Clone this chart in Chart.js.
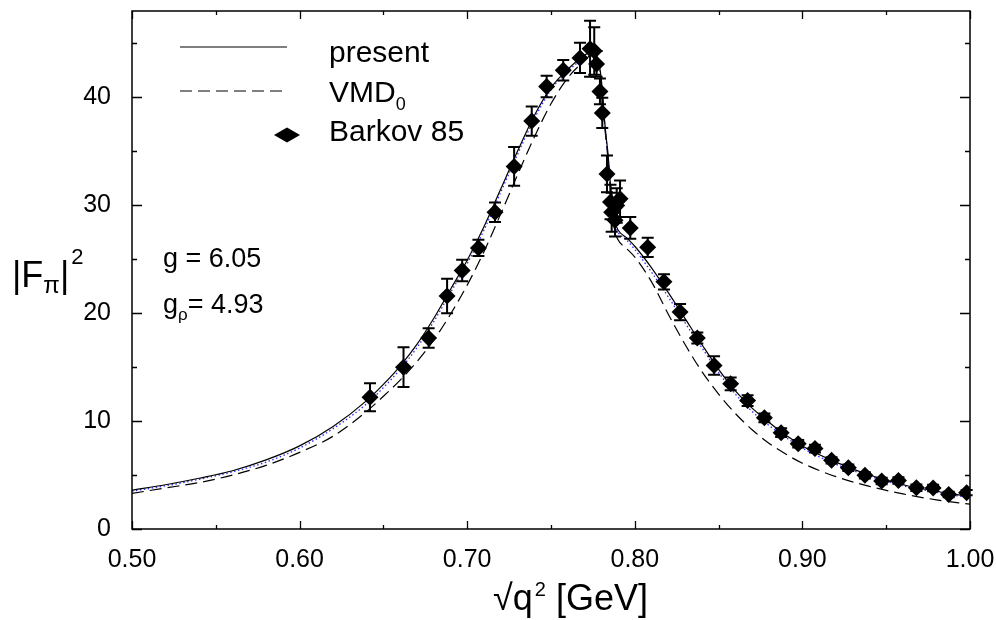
<!DOCTYPE html>
<html>
<head>
<meta charset="utf-8">
<script src="https://cdn.jsdelivr.net/npm/chart.js@4.4.1/dist/chart.umd.min.js"></script>
<style>
  html, body { margin: 0; padding: 0; background: #fff; }
</style>
</head>
<body>
<canvas id="ffChart" width="996" height="620"></canvas>
<script>
// sqrt(q^2) grid for the model curves [GeV]
const curveX = [0.50, 0.52, 0.54, 0.56, 0.58, 0.60, 0.62, 0.64, 0.65, 0.66,
    0.67, 0.68, 0.69, 0.70, 0.71, 0.72, 0.73, 0.74, 0.75, 0.76,
    0.77, 0.775, 0.777, 0.779, 0.780, 0.781, 0.782, 0.783, 0.784, 0.785,
    0.786, 0.787, 0.788, 0.790, 0.795, 0.80, 0.81, 0.82, 0.83, 0.84,
    0.85, 0.86, 0.87, 0.88, 0.89, 0.90, 0.92, 0.94, 0.96, 0.98, 1.00];

// "present" (solid)
const presentY = [3.6, 4.1, 4.7, 5.4, 6.4, 7.7, 9.5, 11.9, 13.4, 15.1,
    17.1, 19.5, 22.2, 24.9, 28.0, 31.5, 35.0, 38.3, 40.9, 42.6,
    43.9, 44.3, 43.8, 42.8, 41.7, 39.8, 37.8, 36.2, 34.8, 32.8,
    30.8, 29.3, 28.5, 27.7, 27.0, 26.2, 24.2, 21.9, 19.5, 17.1,
    14.8, 12.8, 11.2, 9.9, 8.7, 7.7, 6.2, 5.0, 4.1, 3.5, 3.0];

// VMD_0 (dashed)
const vmdY = [3.3, 3.8, 4.3, 5.0, 5.9, 7.1, 8.6, 10.9, 12.3, 13.8,
    15.5, 17.5, 19.9, 22.6, 25.7, 29.2, 32.8, 36.3, 39.4, 41.8,
    43.4, 44.0, 43.6, 42.5, 41.3, 39.4, 37.4, 35.8, 34.3, 32.3,
    30.3, 28.8, 27.7, 26.8, 26.0, 25.2, 22.9, 19.9, 17.1, 14.6,
    12.5, 10.7, 9.2, 7.95, 6.95, 6.1, 4.85, 3.95, 3.25, 2.7, 2.3];

// blue dotted curve (not in legend)
const dottedY = [3.5, 4.0, 4.6, 5.3, 6.2, 7.5, 9.3, 11.6, 13.1, 14.8,
    16.8, 19.2, 21.9, 24.6, 27.7, 31.2, 34.7, 38.0, 40.7, 42.4,
    43.7, 44.1, 43.6, 42.6, 41.5, 39.6, 37.6, 36.0, 34.6, 32.6,
    30.6, 29.1, 28.3, 27.5, 26.8, 25.9, 23.8, 21.5, 19.1, 16.8,
    14.5, 12.5, 10.9, 9.6, 8.5, 7.5, 6.0, 4.9, 4.0, 3.4, 2.9];

// Barkov 85 data
const barkovX = [0.642, 0.662, 0.677, 0.688, 0.697, 0.7067, 0.7166, 0.728, 0.7385, 0.7474,
    0.7573, 0.7673, 0.7733, 0.7758, 0.7772, 0.7792, 0.7806, 0.7834, 0.7855, 0.7862,
    0.7882, 0.7892, 0.7912, 0.7973, 0.8077, 0.8174, 0.827, 0.8373, 0.8473, 0.8572,
    0.8673, 0.8773, 0.8873, 0.8975, 0.9075, 0.9174, 0.9274, 0.9373, 0.9473, 0.9573,
    0.968, 0.978, 0.9873, 0.998];
const barkovY = [12.2, 15.0, 17.7, 21.6, 23.95, 26.05, 29.35, 33.6, 37.8, 41.0,
    42.5, 43.65, 44.5, 44.3, 43.1, 40.55, 38.55, 32.9, 30.3, 29.35,
    28.6, 29.97, 30.6, 27.9, 26.1, 22.9, 20.1, 17.7, 15.15, 13.45,
    11.9, 10.3, 8.93, 7.9, 7.45, 6.36, 5.68, 4.97, 4.45, 4.5,
    3.83, 3.8, 3.2, 3.37];
const barkovErr = [1.3, 1.85, 0.9, 1.6, 1.0, 0.75, 0.9, 1.8, 1.35, 1.0,
    0.95, 1.4, 2.6, 2.2, 1.2, 1.2, 1.4, 1.7, 1.6, 1.8,
    1.5, 1.6, 1.7, 1.0, 0.9, 0.7, 0.75, 0.5, 0.85, 0.6,
    0.5, 0.4, 0.4, 0.35, 0.35, 0.3, 0.3, 0.3, 0.3, 0.3,
    0.3, 0.3, 0.25, 0.25];

const X_MIN = 0.5, X_MAX = 1.0, Y_MIN = 0, Y_MAX = 48;
const FONT = "'Liberation Sans', Arial, sans-serif";

const toXY = (xs, ys) => xs.map((x, i) => ({ x: x, y: ys[i] }));

function isMult(v, step) {
    const k = v / step;
    return Math.abs(k - Math.round(k)) < 1e-6;
}

// keep the plot box fixed: no extra room for overhanging tick labels
function noOverhang(scale) {
    scale.paddingTop = 0;
    scale.paddingBottom = 0;
    scale.paddingLeft = 0;
    scale.paddingRight = 0;
}

// error bars for the Barkov points
const errorBarPlugin = {
    id: 'errorBars',
    afterDatasetsDraw(chart) {
        const { ctx, scales: { x, y } } = chart;
        ctx.save();
        ctx.strokeStyle = '#000';
        ctx.lineWidth = 2;
        barkovX.forEach((bx, i) => {
            const px = x.getPixelForValue(bx);
            const top = y.getPixelForValue(barkovY[i] + barkovErr[i]);
            const bot = y.getPixelForValue(barkovY[i] - barkovErr[i]);
            ctx.beginPath();
            ctx.moveTo(px, top); ctx.lineTo(px, bot);
            ctx.moveTo(px - 6, top); ctx.lineTo(px + 6, top);
            ctx.moveTo(px - 6, bot); ctx.lineTo(px + 6, bot);
            ctx.stroke();
        });
        ctx.restore();
    }
};

function text(ctx, str, x, y, size) {
    ctx.font = size + 'px ' + FONT;
    ctx.fillText(str, x, y);
    return x + ctx.measureText(str).width;
}

// frame, inward ticks, legend, labels
const framePlugin = {
    id: 'frame',
    afterDraw(chart) {
        const { ctx, chartArea: a, scales: { x, y } } = chart;
        ctx.save();
        ctx.strokeStyle = '#000';
        ctx.lineWidth = 1.5;
        ctx.strokeRect(a.left, a.top, a.right - a.left, a.bottom - a.top);

        ctx.lineWidth = 1.3;
        ctx.beginPath();
        x.ticks.forEach(t => {
            if (!isMult(t.value, 0.05)) return;
            const len = isMult(t.value, 0.1) ? 8 : 4;
            const px = Math.round(x.getPixelForValue(t.value)) + 0.5;
            ctx.moveTo(px, a.bottom); ctx.lineTo(px, a.bottom - len);
            ctx.moveTo(px, a.top); ctx.lineTo(px, a.top + len);
        });
        y.ticks.forEach(t => {
            if (!isMult(t.value, 5)) return;
            const len = isMult(t.value, 10) ? 10 : 5;
            const py = Math.round(y.getPixelForValue(t.value)) + 0.5;
            ctx.moveTo(a.left, py); ctx.lineTo(a.left + len, py);
            ctx.moveTo(a.right, py); ctx.lineTo(a.right - len, py);
        });
        ctx.stroke();

        // legend
        ctx.lineWidth = 1.2;
        ctx.beginPath();
        ctx.moveTo(180, 47); ctx.lineTo(287, 47);
        ctx.stroke();
        ctx.setLineDash([12, 6]);
        ctx.beginPath();
        ctx.moveTo(180, 91); ctx.lineTo(287, 91);
        ctx.stroke();
        ctx.setLineDash([]);
        ctx.fillStyle = '#000';
        ctx.beginPath();
        ctx.moveTo(274, 135); ctx.lineTo(287, 127.5);
        ctx.lineTo(300, 135); ctx.lineTo(287, 142.5);
        ctx.closePath();
        ctx.fill();

        ctx.textBaseline = 'alphabetic';
        ctx.textAlign = 'left';
        text(ctx, 'present', 329, 62, 30);
        let cx = text(ctx, 'VMD', 329, 102, 30);
        text(ctx, '0', cx, 110, 18);
        text(ctx, 'Barkov 85', 329, 141, 30);

        // coupling constants
        text(ctx, 'g = 6.05', 163, 267, 27);
        cx = text(ctx, 'g', 163, 313, 27);
        cx = text(ctx, '\u03c1', cx, 320, 17);
        text(ctx, '= 4.93', cx, 313, 27);

        // y axis title |F_pi|^2
        cx = text(ctx, '|F', 12, 287, 36);
        cx = text(ctx, '\u03c0', cx, 293, 24);
        cx = text(ctx, '|', cx, 287, 36);
        text(ctx, '2', cx + 2, 264, 22);

        // x axis title
        cx = text(ctx, '\u221a', 493, 610, 36);
        cx = text(ctx, 'q', cx, 610, 36);
        cx = text(ctx, '2', cx + 2, 596, 20);
        text(ctx, ' [GeV]', cx, 610, 36);
        ctx.restore();
    }
};

const ctx = document.getElementById('ffChart').getContext('2d');

new Chart(ctx, {
    type: 'line',
    data: {
        datasets: [
            {
                label: 'Barkov 85',
                data: toXY(barkovX, barkovY),
                showLine: false,
                pointStyle: 'rectRot',
                pointRadius: 8.5,
                pointHoverRadius: 8.5,
                backgroundColor: '#000',
                borderColor: '#000',
                borderWidth: 0
            },
            {
                label: 'present',
                data: toXY(curveX, presentY),
                borderColor: '#000',
                borderWidth: 1.2,
                pointRadius: 0,
                cubicInterpolationMode: 'monotone',
                fill: false
            },
            {
                label: 'dotted',
                data: toXY(curveX, dottedY),
                borderColor: '#2a2aff',
                borderWidth: 1.3,
                borderDash: [1.5, 2.5],
                pointRadius: 0,
                cubicInterpolationMode: 'monotone',
                fill: false
            },
            {
                label: 'VMD0',
                data: toXY(curveX, vmdY),
                borderColor: '#000',
                borderWidth: 1.2,
                borderDash: [12, 6],
                pointRadius: 0,
                cubicInterpolationMode: 'monotone',
                fill: false
            }
        ]
    },
    options: {
        responsive: false,
        animation: false,
        devicePixelRatio: 1,
        layout: { autoPadding: false, padding: { top: 11, right: 26, left: 0, bottom: 0 } },
        plugins: {
            legend: { display: false },
            tooltip: { enabled: false }
        },
        scales: {
            x: {
                type: 'linear',
                min: X_MIN,
                max: X_MAX,
                grid: { display: false },
                border: { display: false },
                afterFit: scale => { scale.height = 91; noOverhang(scale); },
                ticks: {
                    stepSize: 0.05,
                    autoSkip: false,
                    maxRotation: 0,
                    padding: 8,
                    color: '#000',
                    font: { family: FONT, size: 25 },
                    callback: v => isMult(v, 0.1) ? v.toFixed(2) : ''
                }
            },
            y: {
                type: 'linear',
                min: Y_MIN,
                max: Y_MAX,
                grid: { display: false },
                border: { display: false },
                afterFit: scale => { scale.width = 132; noOverhang(scale); },
                ticks: {
                    stepSize: 5,
                    autoSkip: false,
                    padding: 13,
                    color: '#000',
                    font: { family: FONT, size: 25 },
                    callback: v => isMult(v, 10) ? String(v) : ''
                }
            }
        }
    },
    plugins: [errorBarPlugin, framePlugin]
});
</script>
</body>
</html>
